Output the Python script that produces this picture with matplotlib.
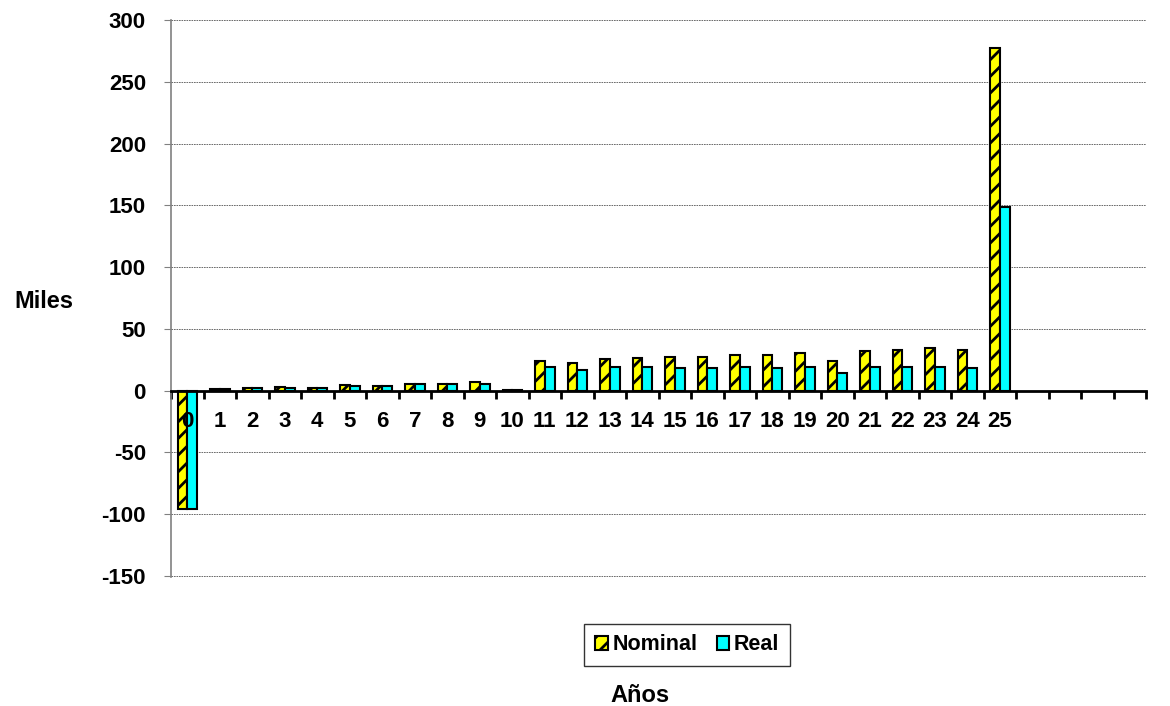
import matplotlib
matplotlib.use("Agg")
import matplotlib.pyplot as plt
import matplotlib.transforms as mtransforms
import numpy as np

plt.rcParams["font.family"] = ["Liberation Sans", "DejaVu Sans"]
plt.rcParams["font.weight"] = "bold"
plt.rcParams["hatch.linewidth"] = 2.0
plt.rcParams["axes.unicode_minus"] = False

# data (thousands)
years = list(range(26))
nominal = [-96, 1.7, 2.5, 2.8, 2.5, 4.2, 3.9, 5.8, 5.8, 6.9, 0.6,
           24.1, 22.8, 25.7, 26.6, 27.4, 27.4, 28.7, 28.5, 30.6, 24.1,
           32.2, 33.3, 34.4, 33.3, 277]
real = [-96, 1.5, 2.3, 2.5, 2.3, 3.9, 3.4, 5.0, 5.0, 5.7, 0.5,
        18.8, 17.1, 18.8, 18.8, 18.5, 18.0, 19.0, 18.2, 18.8, 14.7,
        19.3, 19.3, 19.3, 18.2, 149]
n_slots = 30  # axis keeps four empty categories on the right

fig = plt.figure(figsize=[11.7, 7.06], dpi=100)
ax = fig.add_axes([171 / 1170, (706 - 577) / 706, (1146 - 171) / 1170, 557 / 706])

x = np.array(years)
w = 0.3
ax.bar(x - w / 2, nominal, w, color="#FFFF00", edgecolor="black", hatch="//",
       linewidth=1.5, label="Nominal", zorder=2)
ax.bar(x + w / 2, real, w, color="#00FFFF", edgecolor="black",
       linewidth=1.5, label="Real", zorder=2)

ax.set_xlim(-0.5, n_slots - 0.5)
ax.set_ylim(-150.8, 300)  # a hair below -150 so the bottom gridline shows
ax.set_yticks(np.arange(-150, 301, 50))
ax.tick_params(axis="y", labelsize=16, length=5, color="#808080", pad=13)
ax.yaxis.grid(True, linestyle=(0, (2, 1)), color="#555555", linewidth=0.6)
ax.set_axisbelow(True)

for s in ["top", "right"]:
    ax.spines[s].set_visible(False)
ax.spines["left"].set_color("#808080")
ax.spines["left"].set_linewidth(1.2)
ax.spines["bottom"].set_position(("data", 0))
ax.spines["bottom"].set_linewidth(2)
ax.spines["bottom"].set_zorder(3)

# category boundaries as tick marks on the zero line
ax.set_xticks(np.arange(-0.5, n_slots, 1))
ax.set_xticklabels([])
ax.tick_params(axis="x", which="major", direction="out", length=6, width=2)

# category labels, drawn over the bars like the original
lab_tr = mtransforms.offset_copy(ax.transData, fig=fig, x=0, y=-31, units="dots")
for xi, yr in zip(x, years):
    ax.text(xi, 0, str(yr), transform=lab_tr, ha="center", va="center",
            fontsize=16, fontweight="bold", zorder=5)

fig.text(44 / 1170, 1 - 301 / 706, "Miles", ha="center", va="center",
         fontsize=17, fontweight="bold")
fig.text(640 / 1170, 1 - 695 / 706, "Años", ha="center", va="center",
         fontsize=17, fontweight="bold")

leg = fig.legend(loc="center", bbox_to_anchor=(687 / 1170, 1 - 645 / 706),
                 ncol=2, fontsize=15.5, frameon=True, fancybox=False,
                 handlelength=0.6, handleheight=0.6, handletextpad=0.2,
                 columnspacing=0.9, borderpad=0.5, borderaxespad=0)
leg.get_frame().set_edgecolor("black")
leg.get_frame().set_linewidth(1)

plt.savefig("out.png", dpi=100)
